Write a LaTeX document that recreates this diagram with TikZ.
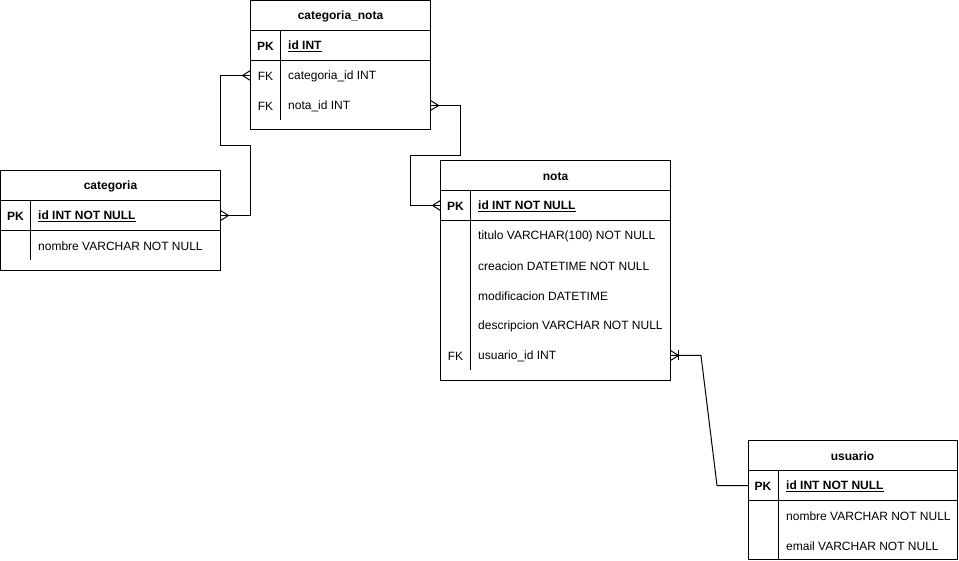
\documentclass[tikz,border=0pt]{standalone}
\usepackage{fontspec}
\setmainfont{Liberation Sans}
\begin{document}
\begin{tikzpicture}[x=1pt,y=-1pt,
  tbl/.style={draw, line width=1pt, anchor=north west, inner sep=0pt, outer sep=0pt},
  rowbox/.style={minimum height=30pt, inner sep=0pt, outer sep=0pt},
  hdr/.style={font=\fontsize{12}{14}\selectfont\bfseries, inner sep=0pt, yshift=-1pt},
  keytxt/.style={font=\fontsize{12}{14}\selectfont, inner sep=0pt, yshift=-1pt},
  pktxt/.style={font=\fontsize{12}{14}\selectfont\bfseries, inner sep=0pt, yshift=-1pt},
  fld/.style={font=\fontsize{12}{14}\selectfont, inner sep=0pt, anchor=west, yshift=-1pt},
  pkfld/.style={font=\fontsize{12}{14}\selectfont\bfseries, inner sep=0pt, anchor=west, yshift=-1pt},
  sep/.style={line width=1pt},
  conn/.style={line width=1pt}
]
\useasboundingbox (0,0) rectangle (959,561);
\newcommand\crowL[1]{\draw[conn] ([shift={(0,-5)}]#1) -- ([shift={(-8,0)}]#1) -- ([shift={(0,5)}]#1);}
\newcommand\crowR[1]{\draw[conn] ([shift={(0,-5)}]#1) -- ([shift={(8,0)}]#1) -- ([shift={(0,5)}]#1);}

% ---------- categoria_nota ----------
\node[tbl, minimum width=180pt, minimum height=129pt] (cn) at (250.5,1) {};
\node[hdr] (cnh) at (340.5,15.5) {categoria\_nota};
\draw[sep] (250.5,30.5) -- (430.5,30.5);
\draw[sep] (250.5,60.5) -- (430.5,60.5);
\draw[sep] (280.5,30.5) -- (280.5,120.5);
\node[rowbox, minimum width=180pt] (cnr1) at (340.5,45.5) {};
\node[rowbox, minimum width=180pt] (cnr2) at (340.5,75.5) {};
\node[rowbox, minimum width=180pt] (cnr3) at (340.5,105.5) {};
\node[pktxt] at (265.5,45.5) {PK};
\node[pkfld] at (288,45.5) {\underline{id INT}};
\node[keytxt] at (265.5,75.5) {FK};
\node[fld] at (288,75.5) {categoria\_id INT};
\node[keytxt] at (265.5,105.5) {FK};
\node[fld] at (288,105.5) {nota\_id INT};

% ---------- categoria ----------
\node[tbl, minimum width=220pt, minimum height=100pt] (ca) at (0.5,170.5) {};
\node[hdr] (cah) at (110.5,185.5) {categoria};
\draw[sep] (0.5,200.5) -- (220.5,200.5);
\draw[sep] (0.5,230.5) -- (220.5,230.5);
\draw[sep] (30.5,200.5) -- (30.5,260.5);
\node[rowbox, minimum width=220pt] (car1) at (110.5,215.5) {};
\node[rowbox, minimum width=220pt] (car2) at (110.5,245.5) {};
\node[pktxt] at (15.5,215.5) {PK};
\node[pkfld] at (38,215.5) {\underline{id INT NOT NULL}};
\node[fld] at (38,245.5) {nombre VARCHAR NOT NULL};

% ---------- nota ----------
\node[tbl, minimum width=230pt, minimum height=220pt] (no) at (440.5,160.5) {};
\node[hdr] (noh) at (555.5,175.5) {nota};
\draw[sep] (440.5,190.5) -- (670.5,190.5);
\draw[sep] (440.5,220.5) -- (670.5,220.5);
\draw[sep] (470.5,190.5) -- (470.5,370.5);
\node[rowbox, minimum width=230pt] (nor1) at (555.5,205.5) {};
\node[rowbox, minimum width=230pt] (nor6) at (555.5,355.5) {};
\node[pktxt] at (455.5,205.5) {PK};
\node[pkfld] at (478,205.5) {\underline{id INT NOT NULL}};
\node[fld] at (478,235.5) {titulo VARCHAR(100) NOT NULL};
\node[fld] at (478,265.5) {creacion DATETIME NOT NULL};
\node[fld] at (478,295.5) {modificacion DATETIME};
\node[fld] at (478,325.5) {descripcion VARCHAR NOT NULL};
\node[keytxt] at (455.5,355.5) {FK};
\node[fld] at (478,355.5) {usuario\_id INT};

% ---------- usuario ----------
\node[tbl, minimum width=209pt, minimum height=119pt] (us) at (748,440.5) {};
\node[hdr] (ush) at (852.5,455.5) {usuario};
\draw[sep] (748,470.5) -- (957,470.5);
\draw[sep] (748,500.5) -- (957,500.5);
\draw[sep] (778,470.5) -- (778,559.5);
\node[rowbox, minimum width=209pt] (usr1) at (852.5,485.5) {};
\node[pktxt] at (763,485.5) {PK};
\node[pkfld] at (786,485.5) {\underline{id INT NOT NULL}};
\node[fld] at (786,515.5) {nombre VARCHAR NOT NULL};
\node[fld] at (786,545.5) {email VARCHAR NOT NULL};

% ---------- connectors ----------
\draw[conn] (cnr2.west) -- (220.5,75.5) -- (220.5,145.5) -- (250.5,145.5) -- (250.5,215.5) -- (car1.east);
\crowL{cnr2.west}
\crowR{car1.east}

\draw[conn] (cnr3.east) -- (460.5,105.5) -- (460.5,155.5) -- (410.5,155.5) -- (410.5,205.5) -- (nor1.west);
\crowR{cnr3.east}
\crowL{nor1.west}

\draw[conn] (nor6.east) -- (701,355.5) -- (717,485.5) -- (usr1.west);
\crowR{nor6.east}
\draw[conn] ([shift={(8,-5)}]nor6.east) -- ([shift={(8,5)}]nor6.east);
\end{tikzpicture}
\end{document}
